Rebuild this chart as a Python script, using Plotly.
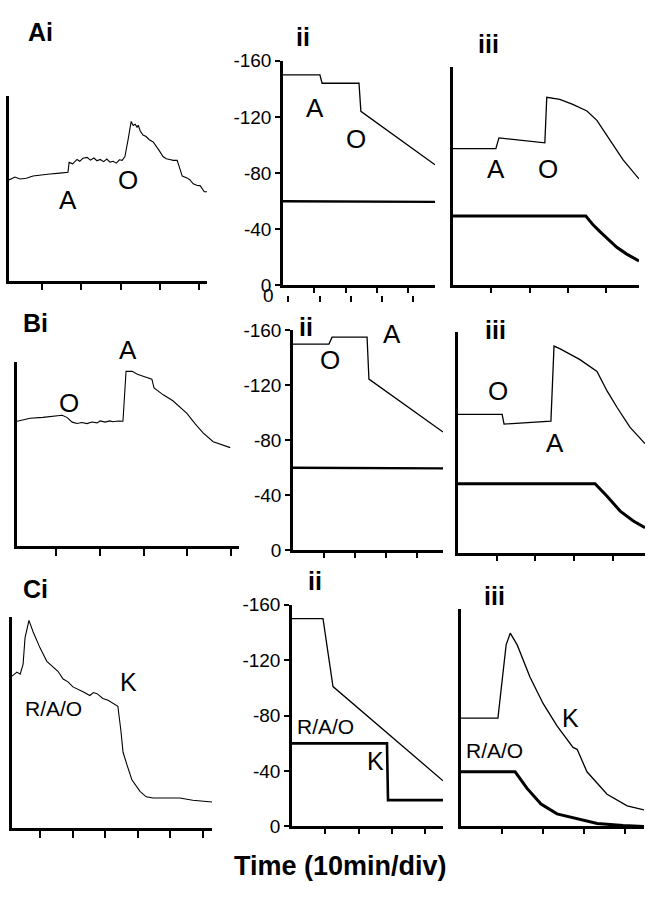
import plotly.graph_objects as go

# ---------------- data (time in minutes) ----------------
ai_t = [1.6, 3.1, 4.4, 6.0, 7.7, 10.0, 12.0, 14.5, 16.6, 16.9, 17.8, 18.9, 19.6, 20.4, 21.5,
        22.3, 23.2, 24.0, 24.8, 25.7, 26.5, 27.3, 28.1, 28.9, 29.7, 30.4, 31.1, 31.9, 32.7, 33.2,
        33.7, 34.2, 34.5, 35.0, 35.7, 36.5, 37.3, 38.3, 39.0, 39.8, 40.8, 41.6, 42.5, 43.4, 44.4,
        45.0, 45.7, 46.9, 47.6, 48.5, 49.4, 50.3, 51.3, 52.5, 53.6]
ai_v = [54.5, 56.1, 55.0, 55.4, 56.6, 57.0, 57.7, 58.2, 58.7, 64.0, 63.2, 65.6, 64.6, 66.2, 66.7,
        65.2, 66.4, 64.9, 65.6, 64.4, 65.8, 64.2, 64.6, 63.6, 65.4, 65.1, 67.2, 76.2, 86.2, 84.0,
        84.7, 83.1, 84.1, 81.0, 78.8, 78.0, 76.3, 75.1, 73.2, 70.5, 67.2, 66.0, 65.6, 65.1, 65.1,
        61.0, 56.6, 55.6, 54.6, 52.4, 51.6, 51.3, 48.1, 48.1, 48.1]

aii_thin_t = [0, 11.8, 12.5, 24.3, 24.9, 48.6]
aii_thin_v = [-150, -150, -144, -144, -124, -86]
aii_thick_t = [0, 48.6]
aii_thick_v = [-60, -59.5]

aiii_thin_t = [0, 11.2, 12.0, 24.0, 24.5, 27.9, 31.3, 35.0, 37.6, 41.0, 44.4, 48.6]
aiii_thin_v = [100, 100, 107.9, 104.3, 137.6, 136, 132.4, 127.6, 120.7, 106.4, 92, 77.9]
aiii_thick_t = [0, 34.7, 36.6, 38.4, 42.8, 45.4, 48.6]
aiii_thick_v = [50.7, 50.7, 44.3, 39.3, 27.9, 22.9, 17.9]

bi_t = [1.1, 4.1, 7.0, 11.4, 12.5, 13.7, 14.8, 15.9, 17.1, 18.2, 19.4, 20.1, 21.2, 22.3, 23.0,
        24.2, 25.3, 26.0, 27.4, 28.6, 29.9, 31.0, 31.9, 32.4, 34.5, 36.7, 38.3, 39.9, 41.8, 43.6,
        45.9, 47.8, 49.8]
bi_v = [67.7, 69.3, 69.8, 70.9, 69.8, 67.2, 66.5, 67.0, 66.4, 67.3, 66.8, 67.9, 67.2, 67.9, 67.4,
        67.8, 67.7, 94.7, 94.7, 93.2, 92.1, 91.4, 90.5, 85.7, 82.0, 78.8, 75.4, 72.0, 66.3, 61.4,
        56.6, 55.0, 53.4]

bii_thin_t = [0, 11.6, 12.6, 23.9, 24.5, 48.4]
bii_thin_v = [-150, -150, -155, -155, -124.5, -86]
bii_thick_t = [0, 48.4]
bii_thick_v = [-60, -59.5]

biii_thin_t = [0, 11.4, 11.9, 24.0, 24.8, 26.4, 31.5, 35.9, 38.5, 41.1, 44.4, 48.3]
biii_thin_v = [100.5, 100.5, 93.5, 95.6, 150, 148, 140.2, 131.7, 117.5, 105.5, 91.3, 79.3]
biii_thick_t = [0, 35.4, 38.5, 41.9, 45.2, 48.3]
biii_thick_v = [50.3, 50.3, 41.1, 30.4, 23.4, 18.4]

ci_t = [1.4, 2.9, 3.9, 4.8, 5.4, 6.6, 7.9, 10.0, 12.1, 14.0, 15.5, 17.1, 18.6, 20.1, 21.7,
        23.2, 25.3, 26.4, 27.5, 29.3, 30.9, 32.4, 33.9, 34.8, 35.5, 36.7, 38.2, 40.7, 42.6, 44.7,
        46.8, 50.0, 52.9, 56.9, 59.5, 62.8]
ci_v = [72.2, 74.1, 73.1, 77.8, 90.3, 98.6, 93.1, 85.6, 79.2, 76.4, 74.5, 70.8, 69.5, 67.1, 66.0,
        64.8, 63.0, 64.4, 63.9, 61.6, 60.8, 59.3, 57.9, 46.8, 36.1, 30.1, 23.1, 17.6, 15.0, 14.4,
        14.4, 14.6, 14.4, 13.4, 13.0, 12.5]

cii_thin_t = [0, 9.3, 12.3, 45.3]
cii_thin_v = [-150, -150, -101, -33]
cii_thick_t = [0, 28.5, 28.8, 45.3]
cii_thick_v = [-60, -60, -19, -19]

ciii_thin_t = [0, 9.0, 11.0, 12.0, 13.7, 16.8, 20.0, 23.4, 27.3, 28.3, 30.7, 35.6, 40.5, 44.6]
ciii_thin_v = [79.6, 79.6, 133.4, 142, 133.4, 109.8, 90.4, 73.9, 58.1, 56.7, 40.2, 23.7, 15.1, 12.2]
ciii_thick_t = [0, 13.2, 16.1, 19.5, 23.4, 28.3, 33.2, 39.5, 44.6]
ciii_thick_v = [40.2, 40.2, 28, 16.5, 9.3, 5.7, 2.2, 0.7, 0]

ii_tick_vals = [0, -40, -80, -120, -160]
ii_tick_text = ["0", "-40", "-80", "-120", "-160"]

# ---------------- layout helpers ----------------
W, H = 653, 900
FONT = "Liberation Sans, Arial, Helvetica, sans-serif"


def px(x):
    return x / W


def py(y):
    return 1 - y / H


# panel: (x0, x1, ytop, ybottom, xrange, yrange, kind, xticks)
panels = [
    (9, 207, 88, 277, [1.59, 52.0], [0, 100], "i", [10, 20, 30, 40, 50]),
    (283, 435, 52, 282, [0, 48.6], [0, -160], "ii", [10, 20, 30, 40]),
    (453, 639, 58, 282, [0, 48.6], [0, 160], "iii", [10, 20, 30, 40]),
    (17, 239, 360, 549, [1.1, 51.8], [0, 100], "i", [10, 20, 30, 40, 50]),
    (293, 443, 328, 553, [0, 48.4], [0, -160], "ii", [10, 20, 30, 40]),
    (458, 645, 330, 556, [0, 48.3], [0, 160], "iii", [10, 20, 30, 40]),
    (12, 212, 622, 838, [1.4, 62.8], [0, 100], "i", [10, 20, 30, 40, 50, 60]),
    (292, 443, 609, 836, [0, 45.3], [0, -160], "ii", [10, 20, 30, 40]),
    (461, 644, 613, 836, [0, 44.6], [0, 160], "iii", [10, 20, 30, 40]),
]

series = [
    [(ai_t, ai_v, 1.1)],
    [(aii_thin_t, aii_thin_v, 1.3), (aii_thick_t, aii_thick_v, 2.4)],
    [(aiii_thin_t, aiii_thin_v, 1.3), (aiii_thick_t, aiii_thick_v, 3.0)],
    [(bi_t, bi_v, 1.1)],
    [(bii_thin_t, bii_thin_v, 1.3), (bii_thick_t, bii_thick_v, 2.4)],
    [(biii_thin_t, biii_thin_v, 1.3), (biii_thick_t, biii_thick_v, 3.0)],
    [(ci_t, ci_v, 1.1)],
    [(cii_thin_t, cii_thin_v, 1.3), (cii_thick_t, cii_thick_v, 2.6)],
    [(ciii_thin_t, ciii_thin_v, 1.3), (ciii_thick_t, ciii_thick_v, 3.0)],
]

fig = go.Figure()
layout = dict(
    width=W, height=H, margin=dict(l=0, r=0, t=0, b=0),
    paper_bgcolor="white", plot_bgcolor="rgba(0,0,0,0)", showlegend=False,
    font=dict(family=FONT, color="black"),
)

for i, (p, ser) in enumerate(zip(panels, series)):
    n = i + 1
    x0, x1, yt, yb, xr, yr, kind, xt = p
    xa = "xaxis" if n == 1 else f"xaxis{n}"
    ya = "yaxis" if n == 1 else f"yaxis{n}"
    xref = "x" if n == 1 else f"x{n}"
    yref = "y" if n == 1 else f"y{n}"
    tl = 7 if kind == "i" else 5
    layout[xa] = dict(domain=[px(x0), px(x1)], anchor=yref, range=xr, showgrid=False,
                      zeroline=False, showline=True, linecolor="black", linewidth=2.5,
                      ticks="outside", tickvals=xt, ticklen=tl, tickwidth=2, tickcolor="black",
                      showticklabels=False, fixedrange=True)
    ydict = dict(domain=[py(yb), py(yt)], anchor=xref, range=yr, showgrid=False,
                 zeroline=False, showline=True, linecolor="black", linewidth=2.5,
                 fixedrange=True)
    if kind == "ii":
        ydict.update(ticks="outside", ticklen=5, tickwidth=2, tickcolor="black",
                     tickvals=ii_tick_vals, ticktext=ii_tick_text, showticklabels=True,
                     tickfont=dict(size=19, family=FONT, color="black"))
    else:
        ydict.update(ticks="", showticklabels=False)
    layout[ya] = ydict
    for (t, v, w) in ser:
        fig.add_trace(go.Scatter(x=t, y=v, mode="lines", xaxis=xref, yaxis=yref,
                                 line=dict(color="black", width=w), hoverinfo="skip"))

# detached tick row under panel Aii
layout["xaxis10"] = dict(overlaying="x2", anchor="free", position=py(292), side="bottom",
                         range=[-1.7, 48.6 - 1.7], showgrid=False, zeroline=False,
                         showline=False, ticks="outside", tickvals=[0, 10, 20, 30, 40],
                         ticklen=6, tickwidth=2, tickcolor="black", showticklabels=False,
                         fixedrange=True)
fig.add_trace(go.Scatter(x=[10], y=[-10], mode="lines", xaxis="x10", yaxis="y2",
                         opacity=0, hoverinfo="skip"))

annots = []


def label(text, x, y, size, bold=False):
    annots.append(dict(text=f"<b>{text}</b>" if bold else text, x=px(x), y=py(y),
                       xref="paper", yref="paper", xanchor="center", yanchor="middle",
                       showarrow=False, font=dict(size=size, family=FONT, color="black")))


# panel labels
for t, x, y in [("Ai", 40, 23), ("Bi", 35, 320), ("Ci", 35, 593),
                ("ii", 303, 28), ("ii", 306, 325), ("ii", 315, 585),
                ("iii", 488, 35), ("iii", 495, 328), ("iii", 494, 600)]:
    label(t, x, y, 25, bold=True)

# solution letters
for t, x, y in [("A", 68, 195), ("O", 128, 174), ("A", 315, 100), ("O", 356, 132),
                ("A", 496, 163), ("O", 548, 163),
                ("O", 69, 402), ("A", 128, 348), ("O", 330, 358), ("A", 392, 332),
                ("O", 498, 390), ("A", 555, 443)]:
    label(t, x, y, 26)
for x, y in [(128, 688), (375, 769), (570, 725)]:
    label("K", x, y, 25)
for x, y in [(53, 715), (325, 734), (494, 758)]:
    label("R/A/O", x, y, 21)

label("0", 268, 292, 19)
label("Time (10min/div)", 340, 876, 27, bold=True)

layout["annotations"] = annots
fig.update_layout(**layout)
fig.write_html("out.html", config={"displayModeBar": False},
               post_script="document.body.style.margin='0px';")
